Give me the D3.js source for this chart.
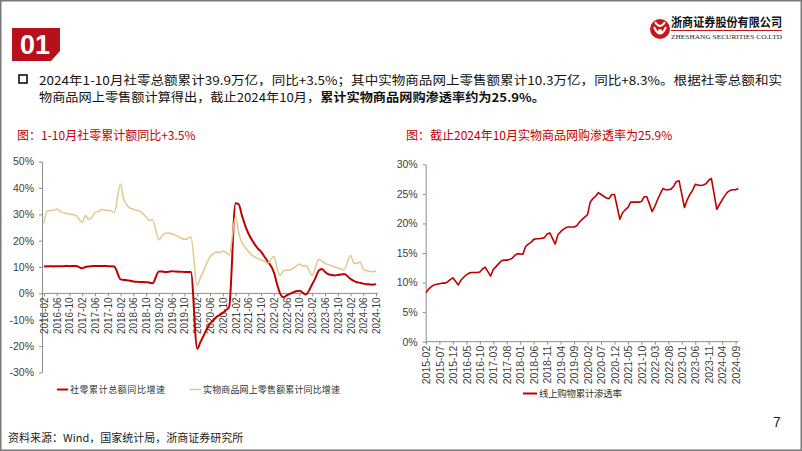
<!DOCTYPE html>
<html><head><meta charset="utf-8">
<script src="https://cdn.jsdelivr.net/npm/d3@7/dist/d3.min.js"></script>
<style>
html,body{margin:0;padding:0;background:#fff;}
svg{display:block;}
text{font-family:"Liberation Sans","Noto Sans CJK SC",sans-serif;}
.cjk{font-family:"Noto Sans CJK SC","Liberation Sans",sans-serif;}
</style></head>
<body>
<svg id="c" width="802" height="451"></svg>
<script>
// ---------- DATA ----------
// left chart: monthly 2016-02 .. 2024-10 (January has no cumulative figure -> null)
const leftStart = "2016-02", leftEnd = "2024-10";
const retailYoY = [
  10.2,10.3,10.3,10.2,10.3,10.3,10.3,10.4,10.3,10.4,10.4,
  null,9.5,10.0,10.2,10.3,10.4,10.4,10.4,10.4,10.3,10.3,10.2,
  null,5.3,5.1,5.0,4.8,4.5,4.4,4.3,4.3,4.2,4.1,3.8,
  null,8.3,8.3,8.1,8.2,8.4,8.3,8.2,8.2,8.1,8.1,8.1,
  null,-21.0,-18.5,-16.0,-13.5,-11.5,-10.2,-9.0,-8.2,-7.4,-6.4,-5.1,
  null,34.2,33.8,29.5,25.8,22.8,20.5,18.6,17.0,15.8,14.0,12.2,
  null,8.0,3.5,-0.2,-1.5,-0.8,-0.2,0.4,0.8,1.0,0.3,-0.4,
  null,3.5,5.8,8.5,9.2,8.2,7.3,7.0,6.8,7.0,7.2,7.3,
  null,5.5,4.7,4.2,4.0,3.7,3.5,3.4,3.3,3.5
];
const onlineYoY = [
  26.5,31.2,31.4,31.4,32.0,31.2,30.6,30.3,30.1,29.9,29.6,
  null,27.0,29.5,28.0,28.8,30.8,31.0,31.8,31.6,31.4,31.3,30.6,
  null,41.5,35.7,33.5,32.3,31.9,31.5,31.2,30.2,29.0,27.6,28.0,
  null,20.3,21.8,22.8,22.9,22.6,22.2,21.6,20.9,20.5,20.7,21.5,
  null,3.0,5.9,8.6,11.5,13.8,15.0,15.8,15.4,16.1,15.5,14.6,
  null,29.0,23.0,19.2,17.5,16.0,14.7,13.8,13.2,12.7,12.2,11.4,
  null,14.0,9.5,6.8,8.6,8.8,8.9,9.5,10.3,11.1,10.4,10.6,
  null,6.8,9.8,12.9,12.3,11.4,10.9,10.5,10.0,9.7,9.2,8.9,
  null,14.4,11.6,11.3,12.0,9.1,8.6,8.4,8.2,8.5
];
const leftTicks = ["2016-02","2016-06","2016-10","2017-02","2017-06","2017-10","2018-02","2018-06","2018-10",
  "2019-02","2019-06","2019-10","2020-02","2020-06","2020-10","2021-02","2021-06","2021-10",
  "2022-02","2022-06","2022-10","2023-02","2023-06","2023-10","2024-02","2024-06","2024-10"];
const leftYTicks = [-30,-20,-10,0,10,20,30,40,50];

// right chart: monthly 2015-02 .. 2024-10
const rightStart = "2015-02", rightEnd = "2024-10";
const penetration = [
  8.3,8.9,9.3,9.6,9.7,9.8,9.9,9.9,10.1,10.5,10.8,
  null,9.6,10.4,10.9,11.3,11.6,11.7,11.7,11.7,11.8,12.3,12.6,
  null,11.1,12.2,12.7,13.2,13.7,13.8,13.8,13.9,14.1,14.6,14.9,
  null,14.8,16.1,16.5,16.8,17.3,17.4,17.4,17.5,17.6,18.2,18.4,
  null,16.5,18.1,18.6,19.0,19.3,19.4,19.4,19.4,19.6,20.2,20.7,
  null,21.5,23.6,24.2,24.6,25.2,24.9,24.6,24.3,24.2,24.9,24.9,
  null,20.7,21.8,22.3,22.7,23.6,23.6,23.6,23.6,23.7,24.5,24.5,
  null,22.0,22.9,24.0,25.0,25.9,25.7,25.7,25.8,26.3,27.1,27.2,
  null,22.7,24.0,24.9,25.6,26.6,26.5,26.4,26.5,26.7,27.3,27.6,
  null,22.4,23.2,24.0,24.7,25.3,25.6,25.7,25.7,25.9
];
const rightTicks = ["2015-02","2015-07","2015-12","2016-05","2016-10","2017-03","2017-08","2018-01","2018-06",
  "2018-11","2019-04","2019-09","2020-02","2020-07","2020-12","2021-05","2021-10","2022-03",
  "2022-08","2023-01","2023-06","2023-11","2024-04","2024-09"];
const rightYTicks = [0,5,10,15,20,25,30];

const leftLegend = ["社零累计总额同比增速","实物商品网上零售额累计同比增速"];
const rightLegend = ["线上购物累计渗透率"];

// ---------- HELPERS ----------
const fmtM = d3.timeFormat("%Y-%m"), parseM = d3.timeParse("%Y-%m");
function months(a,b){ return d3.timeMonth.range(parseM(a), d3.timeMonth.offset(parseM(b),1)).map(fmtM); }
const leftCats = months(leftStart,leftEnd);
const rightCats = months(rightStart,rightEnd);

const RED = "#C00000", TAN = "#E3C88C", AX = "#8c8c8c", TXT = "#404040";
const svg = d3.select("#c");

// page frame
svg.append("rect").attr("x",0.75).attr("y",0.75).attr("width",800.5).attr("height",449.5)
  .attr("fill","none").attr("stroke","#7a7a7a").attr("stroke-width",1.5);

// header badge
svg.append("path").attr("d","M12,28 H60 V51 L51,61 H12 Z").attr("fill","#B8101A");
svg.append("text").attr("x",35).attr("y",54).attr("text-anchor","middle").attr("fill","#fff")
  .attr("font-size",27).attr("font-weight","bold").text("01");

// logo
const lg = svg.append("g");
lg.append("circle").attr("cx",660).attr("cy",29).attr("r",10).attr("fill","#C8161D");
lg.append("path").attr("d","M655,22 Q660,30 665,22 M654,27 Q660,40 666,27").attr("fill","none").attr("stroke","#fff").attr("stroke-width",2);
lg.append("circle").attr("cx",660).attr("cy",31).attr("r",2).attr("fill","#fff");
lg.append("text").attr("class","cjk").attr("x",671).attr("y",27).attr("font-size",12.5).attr("font-weight","bold")
  .attr("fill","#111").attr("textLength",111).attr("lengthAdjust","spacingAndGlyphs").text("浙商证券股份有限公司");
lg.append("line").attr("x1",671).attr("x2",782).attr("y1",30.5).attr("y2",30.5).attr("stroke","#C8161D").attr("stroke-width",1);
lg.append("text").attr("x",671).attr("y",38.5).attr("font-size",6.5).attr("fill","#222")
  .style("font-family","'Liberation Serif',serif").attr("textLength",111).attr("lengthAdjust","spacingAndGlyphs")
  .text("ZHESHANG SECURITIES CO.LTD");

// bullet text
svg.append("rect").attr("x",19).attr("y",75).attr("width",8).attr("height",8).attr("fill","none").attr("stroke","#111").attr("stroke-width",1.6);
svg.append("text").attr("class","cjk").attr("x",39).attr("y",84.5).attr("font-size",12).attr("fill","#111")
  .attr("textLength",743).attr("lengthAdjust","spacingAndGlyphs")
  .text("2024年1-10月社零总额累计39.9万亿，同比+3.5%；其中实物商品网上零售额累计10.3万亿，同比+8.3%。根据社零总额和实");
const t2 = svg.append("text").attr("class","cjk").attr("x",39).attr("y",102).attr("font-size",12).attr("fill","#111")
  .attr("textLength",506).attr("lengthAdjust","spacingAndGlyphs");
t2.append("tspan").text("物商品网上零售额计算得出，截止2024年10月，");
t2.append("tspan").attr("font-weight","bold").text("累计实物商品网购渗透率约为25.9%。");

// chart titles
svg.append("text").attr("class","cjk").attr("x",17).attr("y",140).attr("font-size",12).attr("fill",RED).text("图：1-10月社零累计额同比+3.5%");
svg.append("text").attr("class","cjk").attr("x",406).attr("y",140).attr("font-size",12).attr("fill",RED).text("图：截止2024年10月实物商品网购渗透率为25.9%");

// footer
svg.append("text").attr("class","cjk").attr("x",8).attr("y",442).attr("font-size",11).attr("fill","#222").text("资料来源：Wind，国家统计局，浙商证券研究所");
svg.append("text").attr("x",773).attr("y",427).attr("font-size",14).attr("fill","#222").text("7");

function styleAxis(g){
  g.select(".domain").attr("stroke",AX).attr("stroke-width",1);
  g.selectAll(".tick line").attr("stroke",AX);
  g.selectAll(".tick text").attr("fill",TXT).attr("font-size",10.5).style("font-family","'Liberation Sans',sans-serif");
}

// ---------- LEFT CHART ----------
const xL = d3.scalePoint().domain(leftCats).range([42,378]).padding(0.6);
const yL = d3.scaleLinear().domain([-30,50]).range([372.5,161.5]);

svg.append("g").attr("transform","translate(42,0)")
  .call(d3.axisLeft(yL).tickValues(leftYTicks).tickSize(3).tickSizeOuter(0).tickFormat(d=>d+"%"))
  .call(styleAxis).call(g=>g.selectAll(".tick text").attr("dx",-2));

const gxL = svg.append("g").attr("transform",`translate(0,${yL(0)})`)
  .call(d3.axisBottom(xL).tickValues(leftTicks).tickSize(3).tickSizeOuter(0))
  .call(styleAxis);
gxL.select(".domain").attr("d",`M42,0H378`);
gxL.selectAll(".tick text").attr("transform","rotate(-90)").attr("text-anchor","end")
  .attr("x",-4).attr("y",0).attr("dy","0.35em").attr("font-size",10);

const lineL = (arr)=> d3.line().curve(d3.curveMonotoneX)
  .x(d=>xL(d.m)).y(d=>yL(d.v))(arr.map((v,i)=>({m:leftCats[i],v})).filter(d=>d.v!==null));

svg.append("path").attr("d",lineL(retailYoY)).attr("fill","none").attr("stroke",RED).attr("stroke-width",2);
svg.append("path").attr("d",lineL(onlineYoY)).attr("fill","none").attr("stroke",TAN).attr("stroke-width",1.5);

// left legend
svg.append("line").attr("x1",57).attr("x2",68).attr("y1",389.5).attr("y2",389.5).attr("stroke",RED).attr("stroke-width",2);
svg.append("text").attr("class","cjk").attr("x",70).attr("y",392.5).attr("font-size",9).attr("fill","#333")
  .attr("textLength",95).attr("lengthAdjust","spacing").text(leftLegend[0]);
svg.append("line").attr("x1",190).attr("x2",201).attr("y1",389.5).attr("y2",389.5).attr("stroke",TAN).attr("stroke-width",1.5);
svg.append("text").attr("class","cjk").attr("x",203).attr("y",392.5).attr("font-size",9).attr("fill","#333")
  .attr("textLength",137).attr("lengthAdjust","spacing").text(leftLegend[1]);

// ---------- RIGHT CHART ----------
const xR = d3.scalePoint().domain(rightCats).range([425.7,738.6]).padding(0.1);
const yR = d3.scaleLinear().domain([0,30]).range([341.7,164.3]);

svg.append("g").attr("transform","translate(425.7,0)")
  .call(d3.axisLeft(yR).tickValues(rightYTicks).tickSize(3).tickSizeOuter(0).tickFormat(d=>d+"%"))
  .call(styleAxis).call(g=>g.selectAll(".tick text").attr("dx",-2));

const gxR = svg.append("g").attr("transform",`translate(0,${yR(0)})`)
  .call(d3.axisBottom(xR).tickValues(rightTicks).tickSize(3).tickSizeOuter(0))
  .call(styleAxis);
gxR.select(".domain").attr("d",`M425.7,0H738.6`);
gxR.selectAll(".tick text").attr("transform","rotate(-90)").attr("text-anchor","end")
  .attr("x",-4).attr("y",0).attr("dy","0.35em").attr("font-size",10.5);

const lineR = d3.line().x(d=>xR(d.m)).y(d=>yR(d.v));
svg.append("path").attr("d",lineR(penetration.map((v,i)=>({m:rightCats[i],v})).filter(d=>d.v!==null)))
  .attr("fill","none").attr("stroke",RED).attr("stroke-width",1.6).attr("stroke-linejoin","round");

// right legend
svg.append("line").attr("x1",523).attr("x2",537).attr("y1",393.5).attr("y2",393.5).attr("stroke",RED).attr("stroke-width",2);
svg.append("text").attr("class","cjk").attr("x",539).attr("y",396.5).attr("font-size",9.5).attr("fill","#333")
  .attr("textLength",83).attr("lengthAdjust","spacing").text(rightLegend[0]);
</script>
</body></html>
